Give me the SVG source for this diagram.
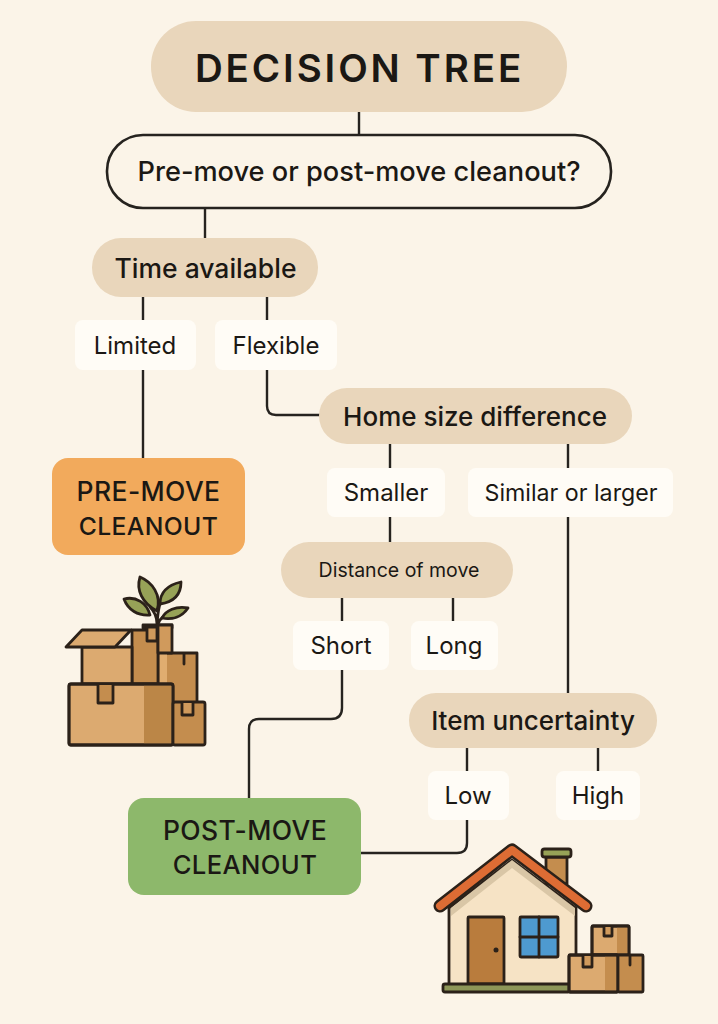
<svg xmlns="http://www.w3.org/2000/svg" width="718" height="1024" viewBox="0 0 718 1024">
<style>
text{font-family:"Inter","Noto Sans","Liberation Sans",sans-serif;fill:#1b1814;text-anchor:middle;font-weight:500}
.tan{fill:#e9d6bb}.lab{fill:#fffcf6}
.c{fill:none;stroke:#26231f;stroke-width:2.4;stroke-linejoin:round}
.o{stroke:#2b2119;stroke-width:2.8;stroke-linejoin:round;stroke-linecap:round}
.n{fill:none}.b1{fill:#dcaa70}.b2{fill:#c48d4e}.b3{fill:#d09a5c}
.r{font-weight:400;font-size:24px}.h{font-size:26.500px;letter-spacing:.4px}
</style>
<rect width="718" height="1024" fill="#fbf4e8"/>
<g id="connectors" class="c">
<path d="M359 112V135"/><path d="M205 208V238"/>
<path d="M143 297V320"/><path d="M267 297V320"/>
<path d="M143 370V458"/><path d="M267 370V406Q267 415 276 415H320"/>
<path d="M390 444V468"/><path d="M568 444V468"/>
<path d="M390 517V542"/><path d="M568 517V693"/>
<path d="M342 598V621"/><path d="M453 598V621"/>
<path d="M342 670V708Q342 719 331 719H259Q249 719 249 729V798"/>
<path d="M467 748V771"/><path d="M598 748V771"/>
<path d="M467 820V843Q467 853 457 853H361"/>
</g>
<g id="title"><rect x="151" y="21" width="416" height="91" rx="45" class="tan"/><text x="359.500" y="82" font-size="38.500" style="font-weight:600;letter-spacing:2.900px">DECISION TREE</text></g>
<g id="q1"><rect x="107" y="135" width="504" height="73" rx="36" fill="#fbf4e8" stroke="#26231f" stroke-width="2.6"/><text x="359" y="181" font-size="27.200">Pre-move or post-move cleanout?</text></g>
<g id="time"><rect x="92" y="238" width="226" height="59" rx="29" class="tan"/><text x="205.500" y="278" font-size="26.500">Time available</text></g>
<g id="limited"><rect x="75" y="320" width="121" height="50" rx="8" class="lab"/><text x="135" y="354" class="r">Limited</text></g>
<g id="flexible"><rect x="215" y="320" width="122" height="50" rx="8" class="lab"/><text x="276" y="354" class="r">Flexible</text></g>
<g id="premove"><rect x="52" y="458" width="193" height="97" rx="16" fill="#f2aa5c"/><text x="148.500" y="501" class="h">PRE-MOVE</text><text x="148.500" y="535" class="h" style="font-size:24.700px">CLEANOUT</text></g>
<g id="home"><rect x="319" y="388" width="313" height="56" rx="28" class="tan"/><text x="475" y="426" font-size="26">Home size difference</text></g>
<g id="smaller"><rect x="327" y="468" width="118" height="49" rx="8" class="lab"/><text x="386" y="501" class="r">Smaller</text></g>
<g id="similar"><rect x="468" y="468" width="205" height="49" rx="8" class="lab"/><text x="571" y="501" class="r" style="font-size:23.200px">Similar or larger</text></g>
<g id="distance"><rect x="281" y="542" width="232" height="56" rx="28" class="tan"/><text x="399" y="577" font-size="19.500" style="font-weight:400">Distance of move</text></g>
<g id="short"><rect x="293" y="621" width="96" height="49" rx="8" class="lab"/><text x="341" y="654" class="r">Short</text></g>
<g id="long"><rect x="411" y="621" width="87" height="49" rx="8" class="lab"/><text x="454" y="654" class="r">Long</text></g>
<g id="uncertainty"><rect x="409" y="693" width="248" height="55" rx="27" class="tan"/><text x="533" y="730" font-size="26">Item uncertainty</text></g>
<g id="low"><rect x="428" y="771" width="81" height="49" rx="8" class="lab"/><text x="468" y="804" class="r">Low</text></g>
<g id="high"><rect x="556" y="771" width="84" height="49" rx="8" class="lab"/><text x="598" y="804" class="r">High</text></g>
<g id="postmove"><rect x="128" y="798" width="233" height="97" rx="16" fill="#8db86b"/><text x="245" y="840" class="h">POST-MOVE</text><text x="245" y="874" class="h" style="font-size:25.600px">CLEANOUT</text></g>
<g id="boxes-illustration">
<g fill="#97a257" class="o">
<path d="M157 611C142 603 136 590 140 577C152 582 162 595 157 611Z"/>
<path d="M160 604C160 592 168 585 181 582C181 594 174 602 160 604Z"/>
<path d="M150 615C138 616 128 610 124 599C136 596 147 603 150 615Z"/>
<path d="M162 618C166 610 176 606 188 608C182 617 172 620 162 618Z"/>
</g>
<path d="M157 624C157 617 155 612 150 607M157 624C158 614 158 610 160 604M158 624C159 621 160 619 163 617" class="o n"/>
<rect x="143" y="625" width="29" height="3" class="o b1"/>
<rect x="158" y="653" width="39" height="50" class="o b2"/>
<path d="M159.500 654H167V702H159.500Z" fill="#e0ad70"/>
<path d="M184 654V664" class="o n"/>
<rect x="132" y="630" width="26" height="54" class="o b2"/>
<path d="M147 627V641H157V627Z" class="o b3"/>
<rect x="158" y="625" width="14" height="28" class="o b3"/>
<rect x="82" y="647" width="50" height="37" class="o b1"/>
<path d="M66 647L82 630H131L115 647Z" class="o b1"/>
<rect x="69" y="684" width="104" height="61" rx="2" class="o b1"/>
<path d="M144 685.500H171.500V743.500H144Z" fill="#bb8647"/>
<rect x="69" y="684" width="104" height="61" rx="2" class="o n"/>
<path d="M98 685V703H113V685" class="o b2"/>
<rect x="173" y="702" width="32" height="43" rx="2" class="o b2"/>
<path d="M182 703V715H193V703" class="o b3"/>
</g>
<g id="house-illustration">
<path d="M546 857V884L567 884V857Z" class="o b2"/>
<rect x="542" y="849" width="29" height="8" rx="2.500" fill="#97a257" class="o"/>
<path d="M449 908L512 860L576 908V985H449Z" fill="#f6e3c5" class="o"/>
<path d="M451 908L512 860L575 908V916L512 868L451 916Z" fill="#d9c6a6"/>
<path d="M440 906L512 850L586 906" fill="none" stroke="#2b2119" stroke-width="13" stroke-linecap="round" stroke-linejoin="round"/>
<path d="M440 906L512 850L586 906" fill="none" stroke="#dd6c34" stroke-width="8" stroke-linecap="round" stroke-linejoin="round"/>
<rect x="468" y="917" width="36" height="67" rx="1" fill="#b97c3d" class="o"/>
<circle cx="496" cy="950" r="2.500" fill="#2b2119"/>
<rect x="520" y="917" width="38" height="40" rx="1" fill="#4e9ad0" class="o"/>
<path d="M539 917V957M520 937H558" class="o n"/>
<rect x="443" y="984" width="127" height="8" rx="2" fill="#8d9658" class="o"/>
<rect x="592" y="926" width="37" height="29" rx="1" class="o b1"/>
<path d="M617 927.500H627.500V954H617Z" fill="#c48d4e"/><rect x="592" y="926" width="37" height="29" rx="1" class="o n"/>
<path d="M604 927V936H612V927" class="o b3"/>
<rect x="569" y="955" width="49" height="37" rx="1" class="o b1"/>
<path d="M605 956.500H616.500V990.500H605Z" fill="#c48d4e"/><rect x="569" y="955" width="49" height="37" rx="1" class="o n"/>
<path d="M583 956V967H592V956" class="o b3"/>
<rect x="618" y="955" width="25" height="37" rx="1" class="o b2"/>
<path d="M630 956V965" class="o n"/>
</g>
</svg>
